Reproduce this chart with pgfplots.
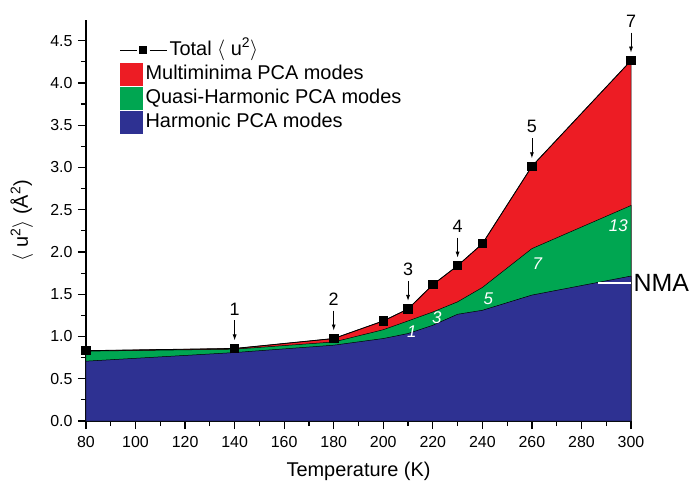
\documentclass[border=0pt]{standalone}
\usepackage{pgfplots}
\pgfplotsset{compat=1.18}
\usepackage{pgfplotstable}
\usepackage{fontspec}
\setmainfont{Liberation Sans}
\usetikzlibrary{arrows.meta}
\definecolor{mred}{RGB}{237,28,36}
\definecolor{mgreen}{RGB}{0,166,81}
\definecolor{mblue}{RGB}{46,49,146}
\pgfplotstableread{
T    blue   green  tot
80   0.708  0.826  0.832
140  0.810  0.850  0.858
180  0.897  0.935  0.976
200  0.976  1.080  1.184
210  1.035  1.184  1.326
220  1.133  1.290  1.613
230  1.263  1.410  1.838
240  1.310  1.580  2.098
260  1.490  2.040  3.014
300  1.715  2.550  4.265
}\data
\begin{document}
\begin{tikzpicture}
\path[use as bounding box] (-86bp,-61bp) rectangle (605bp,421bp);
\begin{axis}[
  scale only axis, width=545bp, height=401bp,
  xmin=80, xmax=300, ymin=0, ymax=4.745,
  axis x line*=bottom, axis y line*=left,
  axis line style={line width=1.2bp, -},
  xtick={80,100,...,300}, minor x tick num=1,
  ytick={0,0.5,1,1.5,2,2.5,3,3.5,4,4.5}, minor y tick num=1,
  tick align=outside, major tick length=8bp, minor tick length=5bp,
  every tick/.style={line width=1.2bp, black},
  /pgf/number format/assume math mode=true,
  tick label style={font=\fontsize{16}{19}\selectfont},
  x tick label style={yshift=-4bp},
  y tick label style={xshift=-2bp, /pgf/number format/.cd, fixed, fixed zerofill, precision=1, /tikz/.cd},
  xlabel={Temperature (K)},
  ylabel={$\langle$ u\textsuperscript{2}$\rangle$ (Å\textsuperscript{2})},
  label style={font=\fontsize{20}{24}\selectfont},
  xlabel style={at={(axis description cs:0.5,-0.125)}, anchor=center},
  ylabel style={at={(axis description cs:-0.118,0.5)}, anchor=center},
  clip=false,
  legend style={at={(axis description cs:0.0624,0.955)}, anchor=north west,
    draw=none, fill=none, inner sep=0pt, row sep=0pt,
    font=\fontsize{20}{24}\selectfont,
    nodes={inner xsep=3bp, inner ysep=2bp, text height=15bp, text depth=5bp}},
  legend cell align=left,
]
\addlegendimage{legend image code/.code={
  \path[draw=none, fill=none] (0bp,-11bp) rectangle (22bp,11bp);
  \draw[overlay, black, line width=0.8bp] (0bp,0bp) -- (16.7bp,0bp);
  \draw[overlay, black, line width=0.8bp] (29.3bp,0bp) -- (46.7bp,0bp);
  \fill[overlay, black] (18.3bp,-3.4bp) rectangle (25.3bp,3.6bp);}}
\addlegendentry{\hspace*{24bp}Total $\langle$ u\textsuperscript{2}$\rangle$}
\addlegendimage{legend image code/.code={\fill[mred] (0bp,-11bp) rectangle (22bp,11bp);}}
\addlegendentry{Multiminima PCA modes}
\addlegendimage{legend image code/.code={\fill[mgreen] (0bp,-11bp) rectangle (22bp,11bp);}}
\addlegendentry{Quasi-Harmonic PCA modes}
\addlegendimage{legend image code/.code={\fill[mblue] (0bp,-11bp) rectangle (22bp,11bp);}}
\addlegendentry{Harmonic PCA modes}

\addplot[forget plot, fill=mred, draw=black, line width=0.5bp] table[x=T,y=tot]{\data} \closedcycle;
\addplot[forget plot, fill=mgreen, draw=black, line width=0.5bp] table[x=T,y=green]{\data} \closedcycle;
\addplot[forget plot, fill=mblue, draw=black, line width=0.5bp] table[x=T,y=blue]{\data} \closedcycle;
\addplot[forget plot, black, line width=0.8bp, mark=square*, mark size=4.2bp, mark options={solid}] table[x=T,y=tot]{\data};

% white mode-count labels
\begin{scope}[every node/.style={white, font=\itshape\fontsize{17}{20}\selectfont}]
\node at (axis cs:211.5,1.055) {1};
\node at (axis cs:221.6,1.225) {3};
\node at (axis cs:242.4,1.449) {5};
\node at (axis cs:262.2,1.86) {7};
\node at (axis cs:294.9,2.31) {13};
\end{scope}

% arrows with numbers
\begin{scope}[every node/.style={font=\fontsize{18}{21}\selectfont}]
\node at ([yshift=39.5bp]axis cs:140,0.858) {1};
\draw[-{Latex[length=6bp,width=4bp]}, line width=0.8bp] ([yshift=28bp]axis cs:140,0.858) -- ([yshift=8bp]axis cs:140,0.858);
\node at ([yshift=39.5bp]axis cs:180,0.976) {2};
\draw[-{Latex[length=6bp,width=4bp]}, line width=0.8bp] ([yshift=28bp]axis cs:180,0.976) -- ([yshift=8bp]axis cs:180,0.976);
\node at ([yshift=39.5bp]axis cs:210,1.326) {3};
\draw[-{Latex[length=6bp,width=4bp]}, line width=0.8bp] ([yshift=28bp]axis cs:210,1.326) -- ([yshift=8bp]axis cs:210,1.326);
\node at ([yshift=39.5bp]axis cs:230,1.838) {4};
\draw[-{Latex[length=6bp,width=4bp]}, line width=0.8bp] ([yshift=28bp]axis cs:230,1.838) -- ([yshift=8bp]axis cs:230,1.838);
\node at ([yshift=39.5bp]axis cs:260,3.014) {5};
\draw[-{Latex[length=6bp,width=4bp]}, line width=0.8bp] ([yshift=28bp]axis cs:260,3.014) -- ([yshift=8bp]axis cs:260,3.014);
\node at ([yshift=39.5bp]axis cs:300,4.265) {7};
\draw[-{Latex[length=6bp,width=4bp]}, line width=0.8bp] ([yshift=28bp]axis cs:300,4.265) -- ([yshift=8bp]axis cs:300,4.265);
\end{scope}

% NMA marker
\draw[white, line width=1.2bp] (axis cs:286.7,1.633) -- (axis cs:300,1.633);
\node[anchor=west, inner sep=0pt, font=\fontsize{25}{30}\selectfont] at ([xshift=2.5bp]axis cs:300,1.633) {NMA};
\end{axis}
\end{tikzpicture}
\end{document}
